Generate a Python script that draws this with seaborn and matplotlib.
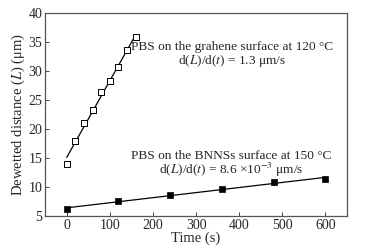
import numpy as np
import pandas as pd
import matplotlib
matplotlib.use("Agg")
import matplotlib.pyplot as plt
import seaborn as sns

# graphene surface, 120 C
gr_time = [0, 20, 40, 60, 80, 100, 120, 140, 160]
gr_dist = [14.0, 18.0, 21.0, 23.3, 26.4, 28.3, 30.7, 33.55, 35.9]

# BNNSs surface, 150 C
bn_time = [0, 120, 240, 360, 480, 600]
bn_dist = [6.2, 7.5, 8.6, 9.7, 10.9, 11.3]

x_ticks = [0, 100, 200, 300, 400, 500, 600]
y_ticks = [5, 10, 15, 20, 25, 30, 35, 40]

sns.set_style("ticks")
plt.rcParams['font.family'] = ['Liberation Serif', 'DejaVu Serif']
plt.rcParams['mathtext.fontset'] = 'stix'

gr = pd.DataFrame({'t': gr_time, 'L': gr_dist})
bn = pd.DataFrame({'t': bn_time, 'L': bn_dist})

fig = plt.figure(figsize=(3.7, 2.52), dpi=100)
ax = fig.add_axes([0.122, 0.143, 0.816, 0.805])

sns.regplot(data=gr, x='t', y='L', scatter=False, ci=None, color='black',
            line_kws={'lw': 0.9}, ax=ax)
sns.regplot(data=bn, x='t', y='L', scatter=False, ci=None, color='black',
            line_kws={'lw': 0.9}, ax=ax)
sns.scatterplot(data=gr, x='t', y='L', marker='s', s=15, facecolor='white',
                edgecolor='black', linewidth=0.7, zorder=3, ax=ax)
sns.scatterplot(data=bn, x='t', y='L', marker='s', s=16, color='black',
                edgecolor='black', linewidth=0.5, zorder=3, ax=ax)

ax.set_xlim(-50, 650)
ax.set_ylim(5, 40)
ax.set_xticks(x_ticks)
ax.set_yticks(y_ticks)
ax.tick_params(direction='in', length=3, width=0.7, labelsize=10, pad=2,
               color='#444444')
for sp in ax.spines.values():
    sp.set_visible(True)
    sp.set_color('#555555')
    sp.set_linewidth(0.9)

ax.set_xlabel('Time (s)', fontsize=10.5, labelpad=0)
ax.set_ylabel('Dewetted distance ($\\mathit{L}$) (\u03bcm)', fontsize=10.5, labelpad=1)

ax.text(384, 34.2, 'PBS on the grahene surface at 120 \u00b0C',
        ha='center', va='center', fontsize=9.6)
ax.text(384, 31.8, 'd($\\mathit{L}$)/d($\\mathit{t}$) = 1.3 \u03bcm/s',
        ha='center', va='center', fontsize=9.6)
ax.text(382, 15.4, 'PBS on the BNNSs surface at 150 \u00b0C',
        ha='center', va='center', fontsize=9.6)
ax.text(382, 12.9, 'd($\\mathit{L}$)/d($\\mathit{t}$) = 8.6 \u00d710$^{-3}$ \u03bcm/s',
        ha='center', va='center', fontsize=9.6)

fig.savefig('out.png', dpi=100)
plt.close(fig)
